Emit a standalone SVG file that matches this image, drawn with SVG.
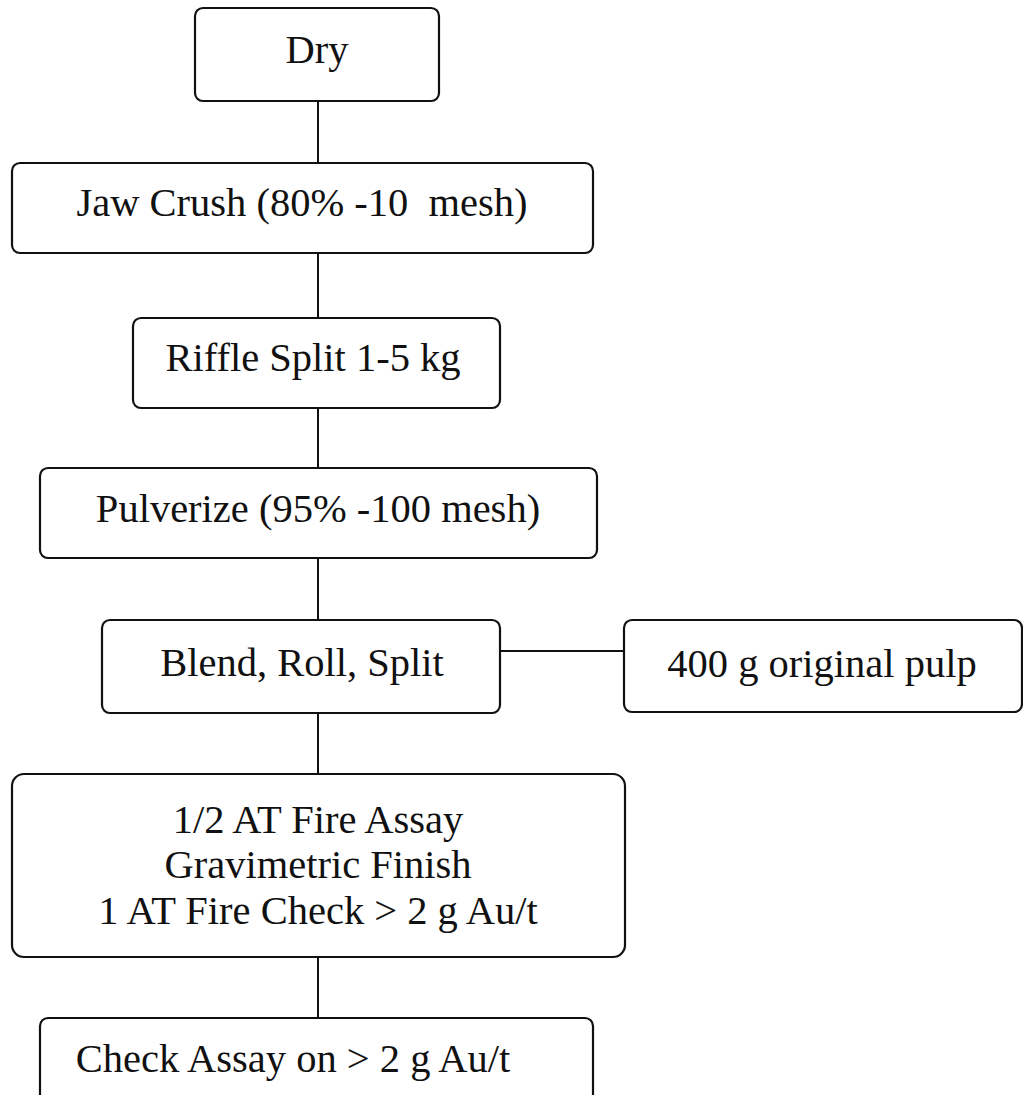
<svg xmlns="http://www.w3.org/2000/svg" width="1023" height="1095" viewBox="0 0 1023 1095" font-family="Liberation Serif, serif">
<style>
.box{fill:#fff;stroke:#111;stroke-width:2.2}
.t{font-size:40.5px;fill:#111;text-anchor:middle;white-space:pre}
.c{stroke:#111;stroke-width:2;fill:none}
</style>
<rect width="1023" height="1095" fill="#fff"/>
<g id="connectors">
<line class="c" x1="318" y1="101" x2="318" y2="163"/>
<line class="c" x1="318" y1="253" x2="318" y2="318"/>
<line class="c" x1="318" y1="408" x2="318" y2="468"/>
<line class="c" x1="318" y1="558" x2="318" y2="620"/>
<line class="c" x1="318" y1="713" x2="318" y2="774"/>
<line class="c" x1="318" y1="957" x2="318" y2="1018"/>
<line class="c" x1="500" y1="651" x2="624" y2="651"/>
</g>
<g id="dry"><rect class="box" x="195" y="8" width="244" height="93" rx="8"/><text class="t" x="317" y="63">Dry</text></g>
<g id="jaw"><rect class="box" x="12" y="163" width="581" height="90" rx="8"/><text class="t" x="302" y="216" xml:space="preserve">Jaw Crush (80% -10  mesh)</text></g>
<g id="riffle"><rect class="box" x="133" y="318" width="367" height="90" rx="8"/><text class="t" x="313" y="371">Riffle Split 1-5 kg</text></g>
<g id="pulverize"><rect class="box" x="40" y="468" width="557" height="90" rx="8"/><text class="t" x="318" y="522">Pulverize (95% -100 mesh)</text></g>
<g id="blend"><rect class="box" x="102" y="620" width="398" height="93" rx="8"/><text class="t" x="302" y="676">Blend, Roll, Split</text></g>
<g id="pulp"><rect class="box" x="624" y="620" width="398" height="92" rx="8"/><text class="t" x="822" y="677">400 g original pulp</text></g>
<g id="fire"><rect class="box" x="12" y="774" width="613" height="183" rx="12"/>
<text class="t" x="318" y="833">1/2 AT Fire Assay</text>
<text class="t" x="318" y="878">Gravimetric Finish</text>
<text class="t" x="318" y="924">1 AT Fire Check &gt; 2 g Au/t</text></g>
<g id="check"><rect class="box" x="40" y="1018" width="553" height="100" rx="8"/><text class="t" x="293" y="1072">Check Assay on &gt; 2 g Au/t</text></g>
</svg>
